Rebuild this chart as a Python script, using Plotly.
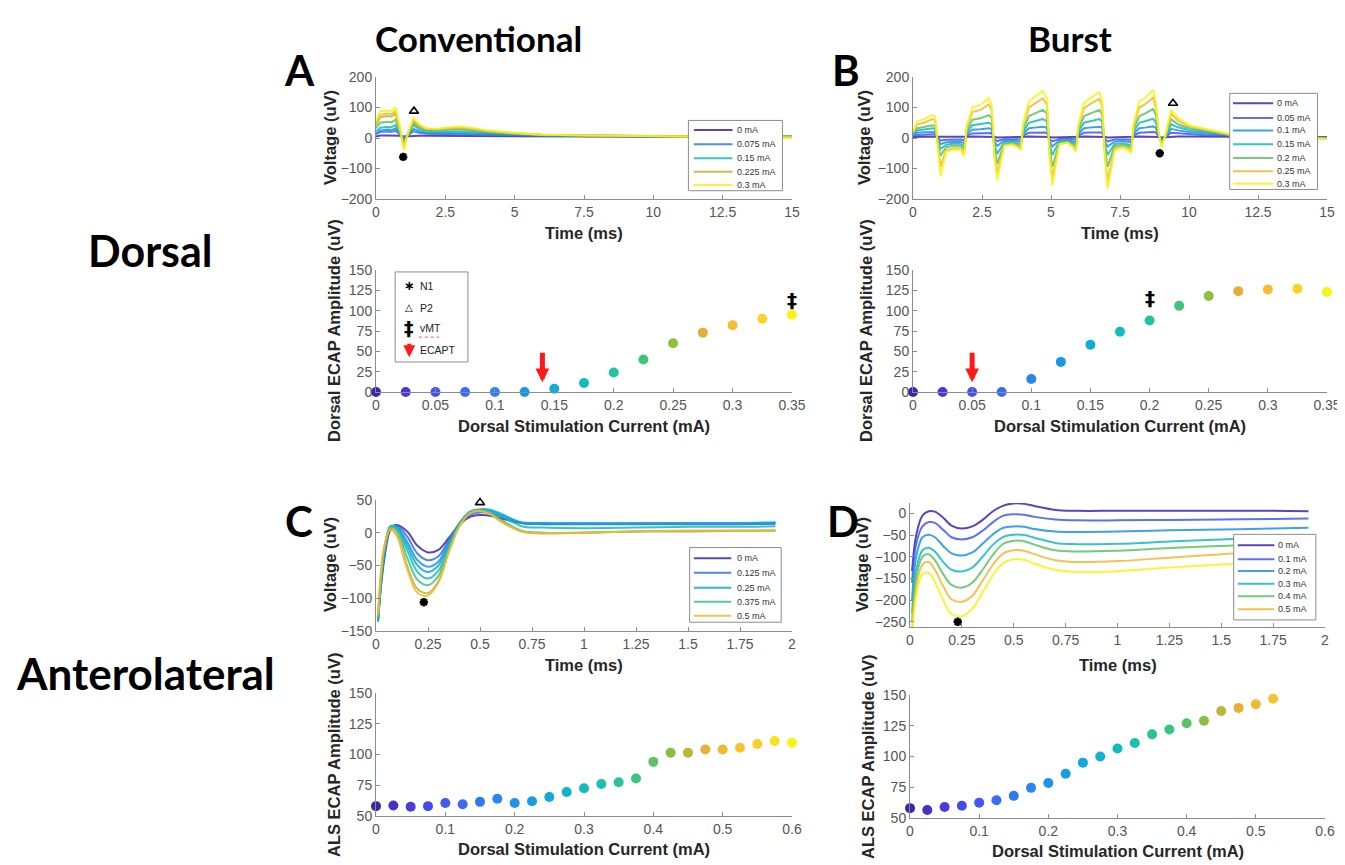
import plotly.graph_objects as go

W, H = 1345, 865
OFF = 8                      # browser body margin: the plot div starts 8px in
FW, FH = W - OFF, H - OFF    # figure size so the figure fills the window

# ---------------- DATA ----------------
# Panel A (conventional, dorsal) waveforms
A_time = [0, 0.15, 0.4, 0.55, 0.7, 0.85, 1.0, 1.15, 1.35, 1.55, 1.8, 2.2, 2.6, 3.0, 3.5, 4.0, 5.0, 6.0, 8.0, 10.0, 12.0, 14.0, 15.0]
A_currents = [0, 0.075, 0.1, 0.15, 0.2, 0.225, 0.25, 0.3]
A_legend = [True, True, False, True, False, True, False, True]
A_v000 = [5, 8, 8, 8, 9, 7, 5, 6, 8, 7, 7, 7, 6, 6, 6, 6, 5, 5, 5, 4, 4, 3, 3]
A_v075 = [12, 20, 21, 20, 24, 12, 2, 8, 22, 17, 14, 13, 13, 13, 12, 11, 9, 8, 6, 5, 4, 3, 4]
A_v100 = [15, 25, 27, 26, 31, 14, -2, 9, 30, 22, 17, 16, 16, 16, 15, 13, 10, 8, 6, 5, 4, 3, 4]
A_v150 = [22, 34, 36, 35, 42, 18, -10, 10, 42, 30, 23, 21, 21, 22, 20, 17, 12, 9, 7, 5, 4, 3, 6]
A_v200 = [32, 50, 53, 51, 60, 25, -18, 12, 50, 35, 26, 25, 27, 28, 25, 20, 14, 10, 7, 5, 4, 3, 5]
A_v225 = [42, 68, 72, 70, 80, 32, -25, 14, 55, 40, 29, 28, 31, 33, 29, 22, 15, 11, 8, 6, 4, 3, 3]
A_v250 = [48, 76, 80, 78, 88, 36, -30, 15, 60, 42, 30, 29, 33, 35, 30, 23, 16, 11, 8, 6, 4, 3, 2]
A_v300 = [55, 88, 90, 88, 102, 42, -40, 15, 66, 45, 32, 30, 34, 38, 33, 25, 16, 11, 8, 6, 4, 3, 1]
A_traces = [A_v000, A_v075, A_v100, A_v150, A_v200, A_v225, A_v250, A_v300]
A_N1 = (0.98, -62)
A_P2 = (1.37, 88)

# Panel A dose-response
A_cur = [0, 0.025, 0.05, 0.075, 0.1, 0.125, 0.15, 0.175, 0.2, 0.225, 0.25, 0.275, 0.3, 0.325, 0.35]
A_amp = [0, 0, 0, 0, 0, 0, 4, 11, 24, 40, 60, 73, 82, 90, 95]
A_ecapt = 0.14
A_vmt = (0.35, 113)

# Panel B (burst, dorsal) waveforms
B_time = [0, 0.15, 0.4, 0.7, 0.8, 0.9, 1.0, 1.2, 1.5, 1.75, 1.85, 1.95, 2.15, 2.45, 2.75, 2.85, 2.95, 3.05, 3.3, 3.6,
          3.8, 3.9, 4.0, 4.2, 4.4, 4.7, 4.85, 4.95, 5.05, 5.3, 5.6, 5.8, 5.9, 6.0, 6.2, 6.4, 6.75, 6.85, 6.95, 7.05,
          7.3, 7.6, 7.8, 7.9, 8.0, 8.2, 8.4, 8.7, 8.8, 8.9, 9.0, 9.15, 9.35, 9.6, 10.0, 10.5, 11.0, 11.5, 12.0, 15.0]
B_currents = [0, 0.05, 0.1, 0.15, 0.2, 0.25, 0.3]
B_v000 = [3, 4, 4, 4, 4, 3, 2, 2, 2, 2, 2, 4, 5, 5, 5, 5, 3, 2, 2, 2, 2, 2, 4, 5, 5, 5, 5, 3, 2, 2,
          2, 2, 2, 4, 5, 5, 5, 5, 3, 2, 2, 2, 2, 2, 4, 5, 5, 5, 5, 3, 2, 3, 5, 5, 5, 4, 4, 4, 4, 3]
B_v050 = [6, 10, 11, 12, 12, 0, -8, -6, -5, -5, -7, 8, 15, 16, 17, 16, -4, -10, -4, -3, -4, -5, 9, 17, 18, 19, 18, -4, -11, -3,
          -2, -4, -5, 9, 17, 18, 19, 18, -4, -11, -5, -4, -5, -6, 9, 17, 18, 20, 18, 4, -1, 3, 17, 15, 12, 10, 8, 6, 4, 2]
B_v100 = [9, 17, 19, 21, 20, -6, -20, -14, -12, -13, -17, 12, 27, 29, 32, 29, -12, -26, -10, -8, -10, -12, 15, 32, 34, 37, 34, -12, -28, -8,
          -7, -10, -13, 15, 32, 34, 37, 34, -12, -28, -12, -10, -12, -14, 15, 32, 34, 38, 33, 6, -5, 4, 30, 25, 20, 16, 12, 8, 5, 1]
B_v150 = [12, 25, 28, 32, 30, -12, -36, -22, -18, -20, -28, 18, 42, 45, 50, 45, -22, -52, -15, -12, -16, -20, 22, 50, 55, 62, 55, -22, -56, -12,
          -10, -16, -22, 22, 50, 55, 62, 54, -22, -56, -20, -17, -20, -24, 22, 50, 55, 63, 52, 8, -10, 5, 45, 35, 26, 21, 15, 9, 5, 0]
B_v200 = [15, 32, 36, 42, 40, -20, -58, -30, -25, -27, -38, 25, 60, 65, 75, 65, -35, -85, -20, -17, -22, -28, 30, 72, 80, 92, 80, -35, -95, -17,
          -13, -22, -32, 30, 72, 80, 92, 78, -35, -95, -27, -23, -27, -33, 30, 72, 80, 95, 75, 10, -15, 6, 62, 45, 32, 25, 18, 10, 6, -1]
B_v250 = [18, 45, 50, 62, 58, -30, -95, -40, -33, -35, -50, 35, 85, 92, 110, 92, -50, -115, -25, -20, -27, -35, 42, 100, 112, 130, 110, -50, -130, -20,
          -15, -27, -40, 40, 98, 110, 128, 105, -50, -140, -35, -28, -35, -43, 42, 100, 110, 132, 100, 15, -22, 8, 80, 57, 38, 28, 20, 11, 7, -2]
B_v300 = [20, 55, 62, 75, 70, -40, -125, -45, -38, -40, -60, 40, 100, 110, 130, 110, -60, -138, -25, -22, -30, -40, 50, 120, 135, 155, 130, -60, -155, -20,
          -15, -30, -45, 45, 115, 130, 150, 125, -60, -165, -40, -32, -40, -50, 50, 120, 130, 158, 120, 20, -30, 10, 92, 65, 42, 32, 22, 12, 8, -3]
B_traces = [B_v000, B_v050, B_v100, B_v150, B_v200, B_v250, B_v300]
B_N1 = (8.94, -50)
B_P2 = (9.42, 114)

# Panel B dose-response
B_cur = [0, 0.025, 0.05, 0.075, 0.1, 0.125, 0.15, 0.175, 0.2, 0.225, 0.25, 0.275, 0.3, 0.325, 0.35]
B_amp = [0, 0, 0, 0, 16, 37, 58, 74, 88, 106, 118, 124, 126, 127, 123]
B_ecapt = 0.05
B_vmt = (0.2, 115)

# Panel C (conventional, anterolateral) waveforms
C_time = [0.01, 0.04, 0.07, 0.1, 0.15, 0.2, 0.25, 0.3, 0.35, 0.4, 0.45, 0.5, 0.55, 0.6, 0.7, 0.8, 1.0, 1.25, 1.5, 1.75, 1.92]
C_currents = [0, 0.125, 0.2, 0.25, 0.3, 0.375, 0.45, 0.5]
C_legend = [True, True, False, True, False, True, False, True]
C_v000 = [-130, -40, 5, 12, 2, -20, -30, -26, -8, 12, 24, 27, 26, 22, 15, 14, 14, 14, 14, 14, 14]
C_v125 = [-132, -35, 8, 11, -6, -32, -42, -36, -12, 12, 27, 31, 30, 25, 15, 13, 13, 13, 13, 13, 14]
C_v200 = [-134, -32, 9, 9, -14, -42, -52, -44, -14, 14, 30, 34, 33, 27, 15, 14, 14, 14, 14, 14, 15]
C_v250 = [-136, -30, 10, 8, -20, -50, -60, -50, -17, 14, 32, 36, 35, 29, 16, 15, 14, 14, 15, 15, 16]
C_v300 = [-134, -28, 10, 6, -27, -60, -70, -58, -21, 12, 31, 35, 33, 26, 10, 8, 7, 8, 9, 9, 10]
C_v375 = [-130, -25, 9, 3, -38, -72, -80, -66, -25, 11, 31, 34, 30, 20, 3, 0, 0, 2, 2, 3, 3]
C_v450 = [-128, -22, 7, -2, -50, -86, -92, -74, -29, 10, 30, 34, 29, 18, 2, -1, 0, 2, 3, 3, 4]
C_v500 = [-125, -20, 5, -5, -56, -92, -96, -76, -30, 9, 29, 33, 28, 17, 2, 0, 0, 2, 3, 3, 4]
C_traces = [C_v000, C_v125, C_v200, C_v250, C_v300, C_v375, C_v450, C_v500]
C_N1 = (0.23, -106)
C_P2 = (0.5, 46)

# Panel C dose-response
C_cur = [0, 0.025, 0.05, 0.075, 0.1, 0.125, 0.15, 0.175, 0.2, 0.225, 0.25, 0.275, 0.3, 0.325, 0.35,
         0.375, 0.4, 0.425, 0.45, 0.475, 0.5, 0.525, 0.55, 0.575, 0.6]
C_amp = [58, 58.5, 57.5, 58, 60.5, 59.5, 61.5, 64, 60.5, 62, 65.5, 69.5, 72.5, 76, 77.5,
         80.5, 94, 101.5, 101.5, 104, 104, 105.5, 108.5, 111, 109.5]

# Panel D (burst, anterolateral) waveforms
D_time = [0.01, 0.03, 0.06, 0.09, 0.12, 0.16, 0.2, 0.25, 0.3, 0.35, 0.4, 0.45, 0.5, 0.55, 0.6, 0.7, 0.8, 1.0, 1.25, 1.5, 1.75, 1.92]
D_currents = [0, 0.1, 0.2, 0.3, 0.4, 0.5, 0.6]
D_legend = [True, True, True, True, True, True, False]
D_v0 = [-133, -50, -5, 5, 4, -10, -28, -35, -30, -15, 5, 18, 23, 22, 17, 8, 6, 6, 6, 6, 6, 5]
D_v1 = [-160, -70, -30, -20, -22, -38, -55, -60, -55, -40, -20, -5, -2, -3, -8, -14, -16, -16, -15, -14, -13, -12]
D_v2 = [-200, -100, -55, -49, -55, -75, -92, -97, -90, -70, -48, -33, -30, -31, -36, -42, -43, -42, -39, -37, -35, -33]
D_v3 = [-230, -130, -85, -79, -88, -112, -130, -134, -125, -100, -72, -54, -49, -50, -56, -68, -71, -70, -65, -60, -56, -53]
D_v4 = [-250, -150, -100, -94, -108, -140, -165, -171, -160, -130, -95, -70, -63, -64, -72, -85, -88, -86, -80, -75, -70, -66]
D_v5 = [-270, -170, -118, -112, -130, -168, -198, -204, -190, -155, -118, -92, -85, -86, -94, -108, -112, -110, -102, -94, -89, -85]
D_v6 = [-285, -190, -140, -137, -158, -200, -232, -237, -220, -182, -142, -114, -106, -107, -116, -130, -135, -133, -125, -118, -113, -110]
D_traces = [D_v0, D_v1, D_v2, D_v3, D_v4, D_v5, D_v6]
D_N1 = (0.23, -250)
D_P2 = (0.48, 30)

# Panel D dose-response
D_cur = [0, 0.025, 0.05, 0.075, 0.1, 0.125, 0.15, 0.175, 0.2, 0.225, 0.25, 0.275, 0.3, 0.325, 0.35,
         0.375, 0.4, 0.425, 0.45, 0.475, 0.5, 0.525]
D_amp = [58, 56.5, 59, 60, 62.5, 64.5, 68, 74.5, 78.5, 86, 95, 100, 106.5, 111, 118,
         122, 127, 129, 137, 139.5, 142.5, 147]

# ---------------- STYLE ----------------
PARULA = [(0.0, '#3e26a8'), (0.071, '#4a38d6'), (0.143, '#4550f0'), (0.214, '#3a6cf4'),
          (0.286, '#2a84f0'), (0.357, '#1898e4'), (0.429, '#0eacd8'), (0.5, '#12bcbc'),
          (0.571, '#22c4a0'), (0.643, '#40c478'), (0.714, '#90bf40'), (0.786, '#e4b034'),
          (0.857, '#f8bc32'), (0.929, '#f8d428'), (1.0, '#f8f414')]


def _hex(h):
    h = h.lstrip('#')
    return [int(h[i:i + 2], 16) for i in (0, 2, 4)]


def parula(f):
    f = max(0.0, min(1.0, f))
    for (f0, c0), (f1, c1) in zip(PARULA[:-1], PARULA[1:]):
        if f <= f1:
            t = (f - f0) / (f1 - f0) if f1 > f0 else 0
            a, b = _hex(c0), _hex(c1)
            return 'rgb(%d,%d,%d)' % tuple(round(a[i] + (b[i] - a[i]) * t) for i in range(3))
    return PARULA[-1][1]


def xd(l, r):
    return [(l - OFF) / FW, (r - OFF) / FW]


def yd(t, b):
    return [1 - (b - OFF) / FH, 1 - (t - OFF) / FH]


AX = '#8c8c8c'
SANS = 'Liberation Sans, Arial, sans-serif'
TICKFONT = dict(family=SANS, size=14, color='#555555')

fig = go.Figure()


def add_waves(time, traces, currents, cmax, axn, shape):
    for vals, c in zip(traces, currents):
        fig.add_trace(go.Scatter(x=time, y=vals, mode='lines',
                                 line=dict(color=parula(c / cmax), width=2, shape=shape),
                                 opacity=0.85, showlegend=False,
                                 xaxis='x' + axn, yaxis='y' + axn, hoverinfo='skip'))


def add_peaks(n1, p2, axn):
    fig.add_trace(go.Scatter(x=[n1[0]], y=[n1[1]], mode='markers',
                             marker=dict(symbol='asterisk-open', size=7, color='black',
                                         line=dict(color='black', width=2.5)),
                             showlegend=False, xaxis='x' + axn, yaxis='y' + axn, cliponaxis=False))
    fig.add_trace(go.Scatter(x=[p2[0]], y=[p2[1]], mode='markers',
                             marker=dict(symbol='triangle-up-open', size=8, color='black',
                                         line=dict(color='black', width=1.6)),
                             showlegend=False, xaxis='x' + axn, yaxis='y' + axn, cliponaxis=False))


def add_dots(cur, amp, cmax, axn):
    fig.add_trace(go.Scatter(x=cur, y=amp, mode='markers',
                             marker=dict(size=10, color=[parula(c / cmax) for c in cur]),
                             showlegend=False, cliponaxis=False,
                             xaxis='x' + axn, yaxis='y' + axn))


add_waves(A_time, A_traces, A_currents, 0.3, '', 'linear')
add_peaks(A_N1, A_P2, '')
add_dots(A_cur, A_amp, 0.35, '2')
add_waves(B_time, B_traces, B_currents, 0.3, '3', 'linear')
add_peaks(B_N1, B_P2, '3')
add_dots(B_cur, B_amp, 0.35, '4')
add_waves(C_time, C_traces, C_currents, 0.6, '5', 'spline')
add_peaks(C_N1, C_P2, '5')
add_dots(C_cur, C_amp, 0.6, '6')
add_waves(D_time, D_traces, D_currents, 0.6, '7', 'spline')
add_peaks(D_N1, D_P2, '7')
add_dots(D_cur, D_amp, 0.6, '8')


def axstyle(**kw):
    d = dict(showline=True, linecolor=AX, linewidth=1, ticks='inside', ticklen=4, tickcolor=AX,
             showgrid=False, zeroline=False, tickfont=TICKFONT, automargin=False, fixedrange=True)
    d.update(kw)
    return d


LX = xd(376, 792)
BX = xd(913, 1327)
DX = xd(910, 1325)

layout_axes = dict(
    xaxis=axstyle(domain=LX, range=[0, 15], dtick=2.5, anchor='y'),
    yaxis=axstyle(domain=yd(77, 199), range=[-200, 200], dtick=100, anchor='x'),
    xaxis2=axstyle(domain=LX, range=[0, 0.35], dtick=0.05, anchor='y2'),
    yaxis2=axstyle(domain=yd(270, 392), range=[0, 150], dtick=25, anchor='x2'),
    xaxis3=axstyle(domain=BX, range=[0, 15], dtick=2.5, anchor='y3'),
    yaxis3=axstyle(domain=yd(77, 199), range=[-200, 200], dtick=100, anchor='x3'),
    xaxis4=axstyle(domain=BX, range=[0, 0.35], dtick=0.05, anchor='y4'),
    yaxis4=axstyle(domain=yd(270, 392), range=[0, 150], dtick=25, anchor='x4'),
    xaxis5=axstyle(domain=LX, range=[0, 2], dtick=0.25, anchor='y5'),
    yaxis5=axstyle(domain=yd(500, 631), range=[-150, 50], dtick=50, anchor='x5'),
    xaxis6=axstyle(domain=LX, range=[0, 0.6], dtick=0.1, anchor='y6'),
    yaxis6=axstyle(domain=yd(693, 816), range=[50, 150], dtick=25, anchor='x6'),
    xaxis7=axstyle(domain=DX, range=[0, 2], dtick=0.25, anchor='y7'),
    yaxis7=axstyle(domain=yd(503, 627), range=[-262, 24], dtick=50, anchor='x7'),
    xaxis8=axstyle(domain=DX, range=[0, 0.6], dtick=0.1, anchor='y8'),
    yaxis8=axstyle(domain=yd(695, 818), range=[50, 150], dtick=25, anchor='x8'),
)

shapes = []
annotations = []


# ---- MATLAB-like legends (box, line samples, labels) ----
def add_legend(axn, box, ys, line_x, text_x, labels, colors):
    xr, yr = 'x%s domain' % axn, 'y%s domain' % axn
    shapes.append(dict(type='rect', xref=xr, yref=yr, x0=box[0], x1=box[1], y0=1 - box[3], y1=1 - box[2],
                       line=dict(color=AX, width=1), fillcolor='white', layer='above'))
    for y, lab, col in zip(ys, labels, colors):
        shapes.append(dict(type='line', xref=xr, yref=yr, x0=line_x[0], x1=line_x[1], y0=1 - y, y1=1 - y,
                           line=dict(color=col, width=2), layer='above', opacity=0.85))
        annotations.append(dict(xref=xr, yref=yr, x=text_x, y=1 - y, text=lab, showarrow=False,
                                xanchor='left', yanchor='middle',
                                font=dict(family=SANS, size=9, color='#333333')))


def fmt(c):
    return ('%g' % c) + ' mA'


sel = [i for i, s in enumerate(A_legend) if s]
add_legend('', [0.751, 0.977, 0.356, 0.932], [0.435, 0.552, 0.666, 0.777, 0.886], [0.764, 0.857], 0.863,
           [fmt(A_currents[i]) for i in sel], [parula(A_currents[i] / 0.3) for i in sel])
add_legend('3', [0.765, 0.977, 0.134, 0.922], [0.215, 0.336, 0.438, 0.551, 0.664, 0.772, 0.874], [0.773, 0.870], 0.874,
           [fmt(c) for c in B_currents], [parula(c / 0.3) for c in B_currents])
sel = [i for i, s in enumerate(C_legend) if s]
add_legend('5', [0.754, 0.974, 0.363, 0.933], [0.444, 0.556, 0.669, 0.777, 0.884], [0.764, 0.854], 0.863,
           [fmt(C_currents[i]) for i in sel], [parula(C_currents[i] / 0.6) for i in sel])
sel = [i for i, s in enumerate(D_legend) if s]
add_legend('7', [0.780, 0.978, 0.253, 0.943], [0.340, 0.454, 0.549, 0.652, 0.753, 0.856], [0.790, 0.878], 0.882,
           [fmt(D_currents[i]) for i in sel], [parula(D_currents[i] / 0.6) for i in sel])

# ---- marker key in panel A bottom ----
XR2, YR2 = 'x2 domain', 'y2 domain'
shapes.append(dict(type='rect', xref=XR2, yref=YR2, x0=0.046, x1=0.221, y0=1 - 0.754, y1=1 - 0.016,
                   line=dict(color=AX, width=1), fillcolor='white', layer='above'))
annotations += [
    dict(xref=XR2, yref=YR2, x=0.080, y=1 - 0.128, text='<b>∗</b>', showarrow=False,
         xanchor='center', yanchor='middle', font=dict(family='DejaVu Sans', size=13, color='black')),
    dict(xref=XR2, yref=YR2, x=0.080, y=1 - 0.309, text='△', showarrow=False,
         xanchor='center', yanchor='middle', font=dict(family='DejaVu Sans', size=10, color='black')),
    dict(xref=XR2, yref=YR2, x=0.080, y=1 - 0.478, text='<b>‡</b>', showarrow=False,
         xanchor='center', yanchor='middle', font=dict(family='DejaVu Sans', size=19, color='black')),
    dict(xref=XR2, yref=YR2, x=0.080, y=1 - 0.715, ax=0, ay=-15, text='', showarrow=True,
         arrowcolor='#ff1a1a', arrowwidth=4, arrowhead=2, arrowsize=0.6),
]
for y, lab in zip([0.128, 0.309, 0.478, 0.656], ['N1', 'P2', 'vMT', 'ECAPT']):
    annotations.append(dict(xref=XR2, yref=YR2, x=0.100, y=1 - y, text=lab, showarrow=False,
                            xanchor='left', yanchor='middle', font=dict(family=SANS, size=10.5, color='#222222')))
shapes.append(dict(type='line', xref=XR2, yref=YR2, x0=0.103, x1=0.152, y0=1 - 0.55, y1=1 - 0.55,
                   line=dict(color='#ff5050', width=1, dash='dot'), layer='above'))

# ---- ECAPT arrows and vMT markers ----
for axn, xe in [('2', A_ecapt), ('4', B_ecapt)]:
    annotations.append(dict(xref='x' + axn, yref='y' + axn, x=xe, y=12, axref='x' + axn, ayref='y' + axn,
                            ax=xe, ay=50, text='', showarrow=True, arrowcolor='#ff1a1a', arrowwidth=5,
                            arrowhead=2, arrowsize=0.55))
for axn, (xv, yv) in [('2', A_vmt), ('4', B_vmt)]:
    annotations.append(dict(xref='x' + axn, yref='y' + axn, x=xv, y=yv, text='<b>‡</b>', showarrow=False,
                            font=dict(family='DejaVu Sans', size=20, color='black')))


# ---- text placed at page pixel positions ----
def ptxt(x, y, text, size=16.5, angle=0, family=SANS, color='#262626'):
    annotations.append(dict(xref='paper', yref='paper', x=(x - OFF) / FW, y=1 - (y - OFF) / FH, text=text,
                            showarrow=False, textangle=angle, xanchor='center', yanchor='middle',
                            font=dict(family=family, size=size, color=color)))


for cx, cy in [(584, 233), (1120, 233), (584, 665), (1118, 665)]:
    ptxt(cx, cy, '<b>Time (ms)</b>')
for cx, cy in [(584, 426), (1120, 426), (584, 849), (1118, 851)]:
    ptxt(cx, cy, '<b>Dorsal Stimulation Current (mA)</b>')
ptxt(330, 138, '<b>Voltage (uV)</b>', angle=-90)
ptxt(864, 138, '<b>Voltage (uV)</b>', angle=-90)
ptxt(334, 331, '<b>Dorsal ECAP Amplitude (uV)</b>', angle=-90)
ptxt(866, 331, '<b>Dorsal ECAP Amplitude (uV)</b>', angle=-90)
ptxt(330, 565, '<b>Voltage (uV)</b>', angle=-90)
ptxt(862, 565, '<b>Voltage (uV)</b>', angle=-90)
ptxt(334, 755, '<b>ALS ECAP Amplitude (uV)</b>', angle=-90)
ptxt(868, 757, '<b>ALS ECAP Amplitude (uV)</b>', angle=-90)

BIG = 'Lato, Open Sans, sans-serif'
ptxt(478, 38, '<b>Conventional</b>', size=35, family=BIG, color='black')
ptxt(1070, 38, '<b>Burst</b>', size=35, family=BIG, color='black')
ptxt(150, 250, '<b>Dorsal</b>', size=43, family=BIG, color='black')
ptxt(145, 673, '<b>Anterolateral</b>', size=44, family=BIG, color='black')
ptxt(299, 70, '<b>A</b>', size=42, family=BIG, color='black')
ptxt(846, 70, '<b>B</b>', size=42, family=BIG, color='black')
ptxt(299, 521, '<b>C</b>', size=42, family=BIG, color='black')
ptxt(843, 521, '<b>D</b>', size=42, family=BIG, color='black')

fig.update_layout(
    width=FW, height=FH, margin=dict(l=0, r=0, t=0, b=0),
    paper_bgcolor='white', plot_bgcolor='white', showlegend=False,
    shapes=shapes, annotations=annotations, **layout_axes)

fig.write_html('out.html')
